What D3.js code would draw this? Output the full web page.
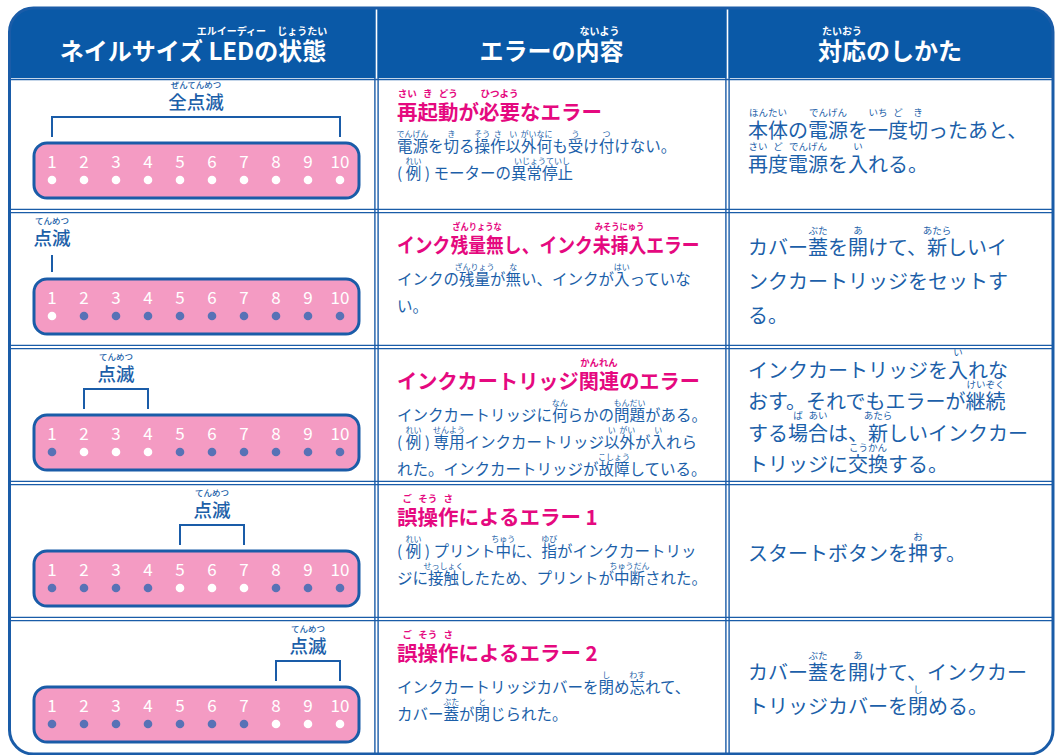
<!DOCTYPE html>
<html><head><meta charset="utf-8">
<script src="https://cdn.jsdelivr.net/npm/d3@7"></script>
<style>
body{margin:0;background:#fff;}
svg{display:block;font-family:"Noto Sans CJK JP","Noto Sans",sans-serif;}
</style></head><body>
<svg id="c" width="1055" height="755"></svg>
<script>
// ---------- data ----------
const headers = ["ネイルサイズ {LED|エルイーディー}の{状態|じょうたい}", "エラーの{内容|ないよう}", "{対応|たいおう}のしかた"];
const ledNumbers = [1, 2, 3, 4, 5, 6, 7, 8, 9, 10];
const blinkingLeds = [[1,2,3,4,5,6,7,8,9,10], [1], [2,3,4], [5,6,7], [8,9,10]];
const ledLabels = ["{全点滅|ぜんてんめつ}", "{点滅|てんめつ}", "{点滅|てんめつ}", "{点滅|てんめつ}", "{点滅|てんめつ}"];
const errorTitles = [
  "{再|さい}{起|き}{動|どう}が{必要|ひつよう}なエラー",
  "インク{残量無|ざんりょうな}し、インク{未挿入|みそうにゅう}エラー",
  "インクカートリッジ{関連|かんれん}のエラー",
  "{誤|ご}{操|そう}{作|さ}によるエラー 1",
  "{誤|ご}{操|そう}{作|さ}によるエラー 2"
];
const errorDetails = [
  ["{電源|でんげん}を{切|き}る{操|そう}{作|さ}{以|い}{外何|がいなに}も{受|う}け{付|つ}けない。", "( {例|れい} ) モーターの{異常停止|いじょうていし}"],
  ["インクの{残量|ざんりょう}が{無|な}い、インクが{入|はい}っていな", "い。"],
  ["インクカートリッジに{何|なん}らかの{問題|もんだい}がある。", "( {例|れい} ) {専用|せんよう}インクカートリッジ{以|い}{外|がい}が{入|い}れら", "れた。インクカートリッジが{故障|こしょう}している。"],
  ["( {例|れい} ) プリント{中|ちゅう}に、{指|ゆび}がインクカートリッ", "ジに{接触|せっしょく}したため、プリントが{中断|ちゅうだん}された。"],
  ["インクカートリッジカバーを{閉|し}め{忘|わす}れて、", "カバー{蓋|ぶた}が{閉|と}じられた。"]
];
const remedies = [
  ["{本体|ほんたい}の{電源|でんげん}を{一|いち}{度|ど}{切|き}ったあと、", "{再|さい}{度|ど}{電源|でんげん}を{入|い}れる。"],
  ["カバー{蓋|ぶた}を{開|あ}けて、{新|あたら}しいイ", "ンクカートリッジをセットす", "る。"],
  ["インクカートリッジを{入|い}れな", "おす。それでもエラーが{継続|けいぞく}", "する{場|ば}{合|あい}は、{新|あたら}しいインクカー", "トリッジに{交換|こうかん}する。"],
  ["スタートボタンを{押|お}す。"],
  ["カバー{蓋|ぶた}を{開|あ}けて、インクカー", "トリッジカバーを{閉|し}める。"]
];

// ---------- style / layout ----------
const C = {blue:'#0a59a7', line:'#1a5ca8', text:'#1c5fa9', pink:'#e5097f', panel:'#f49bc3', dot:'#5872b6', white:'#ffffff'};
const svg = d3.select('#c');
const rowLines = [78, 211, 347, 483, 619, 755];
const colX = [9.5, 376.5, 727.5, 1053];
const outer = {x:9.5, y:8, w:1043.5, h:746, r:24};

const xLed = d3.scalePoint().domain(ledNumbers).range([52, 340]);

function parseRuby(str){
  const segs=[]; const re=/\{([^|}]+)\|([^}]+)\}/g; let last=0, m;
  while((m=re.exec(str))){ if(m.index>last) segs.push({t:str.slice(last,m.index)}); segs.push({t:m[1], r:m[2]}); last=re.lastIndex; }
  if(last<str.length) segs.push({t:str.slice(last)});
  return segs;
}
function rubyLine(parent, str, o){
  const segs = parseRuby(str);
  const g = parent.append('g');
  const t = g.append('text').attr('x',0).attr('y',o.y).attr('font-size',o.size)
    .attr('font-weight',o.weight||400).attr('fill',o.color);
  segs.forEach(s=>t.append('tspan').text(s.t));
  const node = t.node();
  const total = node.getComputedTextLength();
  let sx = 1; if(o.maxWidth && total>o.maxWidth) sx = o.maxWidth/total;
  let x0 = o.x; if(o.anchor==='middle') x0 = o.x - total*sx/2;
  g.attr('transform', `translate(${x0},0) scale(${sx},1)`);
  let idx = 0;
  segs.forEach(s=>{
    const n = s.t.length;
    if(s.r){
      const a = node.getStartPositionOfChar(idx).x;
      const b = node.getEndPositionOfChar(idx+n-1).x;
      g.append('text').attr('x',(a+b)/2).attr('y',o.y-o.rubyOff).attr('text-anchor','middle')
        .attr('font-size',o.rubySize).attr('font-weight',o.rubyWeight||o.weight||400)
        .attr('fill',o.color).text(s.r);
    }
    idx += n;
  });
  return g;
}

// ---------- frame ----------
svg.append('defs').append('clipPath').attr('id','oc').append('rect')
  .attr('x',outer.x).attr('y',outer.y).attr('width',outer.w).attr('height',outer.h).attr('rx',outer.r);
svg.append('rect').attr('x',0).attr('y',0).attr('width',1055).attr('height',rowLines[0])
  .attr('fill',C.blue).attr('clip-path','url(#oc)');

const grid = svg.append('g').attr('stroke',C.line).attr('fill','none');
rowLines.slice(1,5).forEach(y=>{
  [-1.6,1.6].forEach(d=>grid.append('line').attr('x1',colX[0]).attr('x2',colX[3]).attr('y1',y+d).attr('y2',y+d).attr('stroke-width',1.4));
});
grid.append('line').attr('x1',colX[0]).attr('x2',colX[3]).attr('y1',79.5).attr('y2',79.5).attr('stroke-width',1.4);
[colX[1], colX[2]].forEach(x=>{
  [-1.6,1.6].forEach(d=>grid.append('line').attr('x1',x+d).attr('x2',x+d).attr('y1',rowLines[0]).attr('y2',760).attr('stroke-width',1.4));
  svg.append('line').attr('x1',x).attr('x2',x).attr('y1',outer.y).attr('y2',rowLines[0]).attr('stroke','#fff').attr('stroke-width',1.6);
});
svg.append('rect').attr('x',outer.x).attr('y',outer.y).attr('width',outer.w).attr('height',outer.h).attr('rx',outer.r)
  .attr('fill','none').attr('stroke',C.line).attr('stroke-width',3);

// ---------- header ----------
const hx = [193, 551.5, 890];
headers.forEach((h,i)=>rubyLine(svg, h, {x:hx[i], y:60, size:24, weight:700, color:C.white, rubySize:10, rubyOff:25, anchor:'middle'}));

// ---------- rows ----------
blinkingLeds.forEach((on,i)=>{
  const top = rowLines[i], bot = rowLines[i+1];
  const P = bot - 68;
  const g = svg.append('g');
  // panel
  g.append('rect').attr('x',34).attr('y',P).attr('width',325).attr('height',55).attr('rx',13)
    .attr('fill',C.panel).attr('stroke',C.line).attr('stroke-width',3);
  ledNumbers.forEach(n=>{
    g.append('text').attr('x',xLed(n)).attr('y',P+25).attr('text-anchor','middle')
      .attr('font-size',17).attr('fill',C.white).text(n);
    g.append('circle').attr('cx',xLed(n)).attr('cy',P+37).attr('r',4.3)
      .attr('fill', on.includes(n) ? C.white : C.dot);
  });
  // bracket
  const x1 = xLed(d3.min(on)), x2 = xLed(d3.max(on));
  const path = x1===x2 ? `M${x1},${P-7}V${P-24}` : `M${x1},${P-6}V${P-26}H${x2}V${P-6}`;
  g.append('path').attr('d',path).attr('fill','none').attr('stroke',C.line).attr('stroke-width',2);
  rubyLine(g, ledLabels[i], {x:(x1+x2)/2, y:P-34, size:18.5, weight:500, color:C.text, rubySize:8.5, rubyOff:21, anchor:'middle'});

  // error column
  rubyLine(g, errorTitles[i], {x:397, y:top+42, size:20.5, weight:700, color:C.pink, rubySize:9.5, rubyOff:23, maxWidth:303});
  errorDetails[i].forEach((ln,j)=>rubyLine(g, ln, {x:397, y:top+74+j*27, size:15.5, weight:400, color:C.text, rubySize:8, rubyOff:15}));

  // remedy column
  const lines = remedies[i];
  const lh = lines.length===4 ? 31.5 : 34;
  const c0 = (top+bot)/2 + 2.5 - (lines.length-1)*lh/2;
  lines.forEach((ln,j)=>rubyLine(g, ln, {x:748, y:c0+j*lh+7.5, size:20, weight:400, color:C.text, rubySize:9.5, rubyOff:21.5}));
});
</script>
</body></html>
